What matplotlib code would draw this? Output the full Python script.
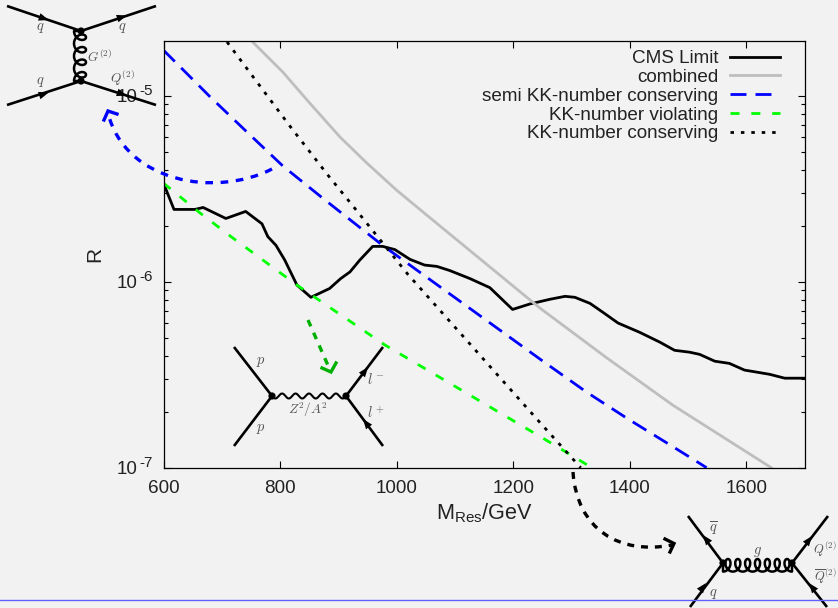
import numpy as np
import matplotlib
matplotlib.use("Agg")
import matplotlib.pyplot as plt
from matplotlib.path import Path
from matplotlib.patches import PathPatch, Polygon, Circle

plt.rcParams['font.family'] = ['Liberation Sans', 'DejaVu Sans']
plt.rcParams['mathtext.fontset'] = 'custom'
plt.rcParams['mathtext.rm'] = 'Liberation Sans'
plt.rcParams['lines.scale_dashes'] = False

# values
cms_mass = [600, 618, 654, 668, 707, 741, 769, 779, 793, 808, 829, 853, 885, 904, 920, 937, 959, 976, 997,
            1023, 1048, 1069, 1091, 1126, 1160, 1199, 1229, 1263, 1289, 1306, 1332, 1357, 1380, 1417, 1452,
            1477, 1503, 1520, 1546, 1571, 1597, 1640, 1666, 1700]
cms_limit = [3.39e-6, 2.45e-6, 2.45e-6, 2.51e-6, 2.19e-6, 2.39e-6, 2.05e-6, 1.75e-6, 1.57e-6, 1.31e-6,
             9.6e-7, 8.25e-7, 9.2e-7, 1.04e-6, 1.13e-6, 1.31e-6, 1.55e-6, 1.55e-6, 1.49e-6, 1.32e-6,
             1.23e-6, 1.21e-6, 1.15e-6, 1.04e-6, 9.3e-7, 7.1e-7, 7.6e-7, 8.05e-7, 8.35e-7, 8.25e-7,
             7.65e-7, 6.75e-7, 6.0e-7, 5.35e-7, 4.73e-7, 4.28e-7, 4.18e-7, 4.07e-7, 3.74e-7, 3.64e-7,
             3.35e-7, 3.18e-7, 3.03e-7, 3.03e-7]

combined_mass = [753, 805, 851, 903, 949, 1000, 1052, 1246, 1361, 1474, 1643]
combined = [1.95e-5, 1.34e-5, 9.14e-6, 6.0e-6, 4.35e-6, 3.11e-6, 2.28e-6, 7.22e-7, 3.89e-7, 2.17e-7, 1e-7]

semi_mass = [600, 680, 743, 805, 873, 908, 976, 1246, 1326, 1397, 1472, 1532]
semi = [1.76e-5, 9.88e-6, 6.4e-6, 4.19e-6, 2.82e-6, 2.31e-6, 1.57e-6, 3.84e-7, 2.55e-7, 1.83e-7, 1.31e-7, 1e-7]

violating_mass = [600, 663, 719, 829, 980, 1263, 1335]
violating = [3.39e-6, 2.34e-6, 1.72e-6, 9.6e-7, 4.57e-7, 1.37e-7, 1e-7]

conserving_mass = [709, 817, 882, 928, 1019, 1246, 1316]
conserving = [1.95e-5, 6.87e-6, 3.75e-6, 2.49e-6, 1.10e-6, 1.75e-7, 1e-7]

x_ticks = [600, 800, 1000, 1200, 1400, 1600]
y_ticks = [1e-7, 1e-6, 1e-5]
y_exponents = ['-7', '-6', '-5']

bg = '#f2f2f2'
txt = '#222222'
fig = plt.figure(figsize=(8.38, 6.08), dpi=100, facecolor=bg)
ax = fig.add_axes([163.5 / 838, (608 - 467.7) / 608, 641 / 838, 427 / 608], facecolor=bg)

ax.plot(cms_mass, cms_limit, color='black', lw=2.0, label='CMS Limit')
ax.plot(combined_mass, combined, color='#bebebe', lw=2.0, label='combined')
ax.plot(semi_mass, semi, color='#0000ff', lw=2.0, ls=(0, (11.5, 6.5)), label='semi KK-number conserving')
ax.plot(violating_mass, violating, color='#00ff00', lw=2.0, ls=(0, (6.5, 8.5)), label='KK-number violating')
ax.plot(conserving_mass, conserving, color='black', lw=2.0, ls=(0, (2.5, 5)), label='KK-number conserving')

ax.set_yscale('log')
ax.set_xlim(600, 1700)
ax.set_ylim(1e-7, 1.98e-5)
ax.set_xticks(x_ticks)
ax.set_yticks(y_ticks)
ax.set_yticklabels([])
ax.yaxis.set_minor_locator(matplotlib.ticker.LogLocator(base=10, subs=range(2, 10), numticks=12))
ax.yaxis.set_minor_formatter(matplotlib.ticker.NullFormatter())
ax.tick_params(axis='both', which='major', direction='in', length=5, width=0.8, top=True, right=True,
               labelsize=13.6, labelcolor=txt)
ax.tick_params(axis='y', which='minor', direction='in', length=2.6, width=0.8, right=True)
ax.tick_params(axis='x', pad=8.5)
for s in ax.spines.values():
    s.set_linewidth(0.9)

# gnuplot style exponents, the 10 and its power are separate texts
for v, e in zip(y_ticks, y_exponents):
    ax.annotate('10', xy=(0, v), xycoords=('axes fraction', 'data'), xytext=(-18.4, -1), textcoords='offset points',
                ha='right', va='center', fontsize=13.6, color=txt, zorder=10, annotation_clip=False)
    ax.annotate(e, xy=(0, v), xycoords=('axes fraction', 'data'), xytext=(-17.3, 3.5), textcoords='offset points',
                ha='left', va='center', fontsize=11, color=txt, zorder=10, annotation_clip=False)

fig.text(484 / 838, 1 - 513 / 608, r'M$_{\mathrm{Res}}$/GeV', ha='center', va='center', fontsize=15.6, color=txt)
fig.text(95 / 838, 1 - 254 / 608, 'R', rotation=90, ha='center', va='center', fontsize=15, color=txt)

leg = ax.legend(loc='upper right', bbox_to_anchor=((789 - 163.5) / 641, 1.0), frameon=False, markerfirst=False,
                fontsize=13.6, labelspacing=0.08, handlelength=2.65, handletextpad=0.6, borderpad=0.5,
                borderaxespad=0.0)
for t in leg.get_texts():
    t.set_color(txt)

# overlay in image pixels for the feynman diagrams and the hand drawn arrows
ov = fig.add_axes([0, 0, 1, 1], facecolor='none')
ov.set_xlim(0, 838)
ov.set_ylim(608, 0)
ov.axis('off')


def seg(x0, y0, x1, y1):
    ov.plot([x0, x1], [y0, y1], color='black', lw=1.9, solid_capstyle='butt')


def head(x, y, dx, dy, size=10):
    n = np.hypot(dx, dy)
    dx, dy = dx / n, dy / n
    tip = (x + dx * size / 2, y + dy * size / 2)
    a = (x - dx * size / 2 - dy * size / 2.6, y - dy * size / 2 + dx * size / 2.6)
    b = (x - dx * size / 2 + dy * size / 2.6, y - dy * size / 2 - dx * size / 2.6)
    ov.add_patch(Polygon([tip, a, b], closed=True, color='black', lw=0))


def dot(x, y):
    ov.add_patch(Circle((x, y), 3.6, color='black', lw=0, zorder=5))


def coil(x0, y0, x1, y1, n, ra, rb, off):
    t = np.linspace(0, 1, 500)
    L = np.hypot(x1 - x0, y1 - y0)
    ux, uy = (x1 - x0) / L, (y1 - y0) / L
    th = np.pi + 2 * np.pi * n * t
    a = t * L - ra * np.sin(th)
    b = off + rb * np.cos(th) * -1
    xs = x0 + a * ux - b * uy
    ys = y0 + a * uy + b * ux
    ov.plot(np.r_[x0, xs, x1], np.r_[y0, ys, y1], color='black', lw=1.8)


def wave(x0, x1, y, n, amp):
    x = np.linspace(x0, x1, 300)
    ov.plot(x, y + amp * np.sin(2 * np.pi * n * (x - x0) / (x1 - x0)), color='black', lw=1.5)


def lab(x, y, s, size=10.5):
    ov.text(x, y, s, ha='center', va='center', fontsize=size, color='#555555', math_fontfamily='cm')


def dashed_curve(p0, p1, p2, p3, color, on, off):
    path = Path([p0, p1, p2, p3], [Path.MOVETO, Path.CURVE4, Path.CURVE4, Path.CURVE4])
    ov.add_patch(PathPatch(path, fc='none', ec=color, lw=2.4, ls=(0, (on, off)), capstyle='butt'))


def chevron(a, tip, b, color):
    ov.plot([a[0], tip[0], b[0]], [a[1], tip[1], b[1]], color=color, lw=2.4, solid_joinstyle='miter')


# graviton exchange, top left
seg(7, 6, 81, 31)
seg(81, 31, 156, 6)
seg(7, 105, 81, 81)
seg(81, 81, 156, 105)
head(44, 18.5, 3, 1)
head(122, 17, 3, -1)
head(44, 94, 3, -1)
head(122, 94, 3, 1)
coil(81, 31, 81, 81, 4, 5.5, 6, 1)
dot(81, 31)
dot(81, 81)
lab(40, 28, r'$q$')
lab(122, 28, r'$q$')
lab(100, 57, r'$G^{(2)}$', 9.5)
lab(40, 82, r'$q$')
lab(122, 78, r'$Q^{(2)}$', 9.5)

# drell-yan, middle
seg(234, 347, 272, 396)
seg(234, 446, 272, 396)
seg(346, 396, 383, 347)
seg(346, 396, 383, 446)
head(365, 371, 1, -1.3)
head(366, 423, -1, -1.3)
wave(272, 346, 396, 5.5, 2.5)
dot(272, 396)
dot(346, 396)
lab(261, 362, r'$p$')
lab(261, 429, r'$p$')
lab(308, 410, r'$Z^2/A^2$', 9.5)
lab(376, 380, r'$l^-$')
lab(376, 413, r'$l^+$')

# gluon s-channel, bottom right
seg(688, 516, 723, 563)
seg(690, 607, 723, 563)
seg(792, 563, 828, 516)
seg(792, 563, 827, 607)
head(706, 539, -1, -1.3)
head(703, 587, 1, -1.3)
head(809, 540, 1, -1.3)
head(812, 587, -1, -1.3)
coil(723, 563, 792, 563, 7, 4.8, 6.3, 2.3)
dot(723, 563)
dot(792, 563)
lab(713, 529, r'$\overline{q}$')
lab(757, 552, r'$g$')
lab(825, 549, r'$Q^{(2)}$', 9)
lab(825, 576, r'$\overline{Q}^{(2)}$', 9)
lab(713, 594, r'$q$')

# arrows from the curves to the diagrams
dashed_curve((272, 169), (215, 198), (125, 182), (108, 113), '#0000ff', 5.5, 5.5)
chevron((104, 120), (108, 111), (117, 114), '#0000ff')
ov.plot([308, 330], [320, 370], color='#00b000', lw=2.4, ls=(0, (5, 5)))
chevron((322, 368), (331, 372), (336, 363), '#00b000')
dashed_curve((573, 472), (577, 530), (620, 555), (672, 545), 'black', 5, 5)
chevron((665, 539), (674, 543.5), (670, 552), 'black')

# stray blue rule near the bottom edge
ov.plot([0, 838], [600, 600], color='#6060ff', lw=1.0)

fig.savefig('out.png', dpi=100, facecolor=bg)
